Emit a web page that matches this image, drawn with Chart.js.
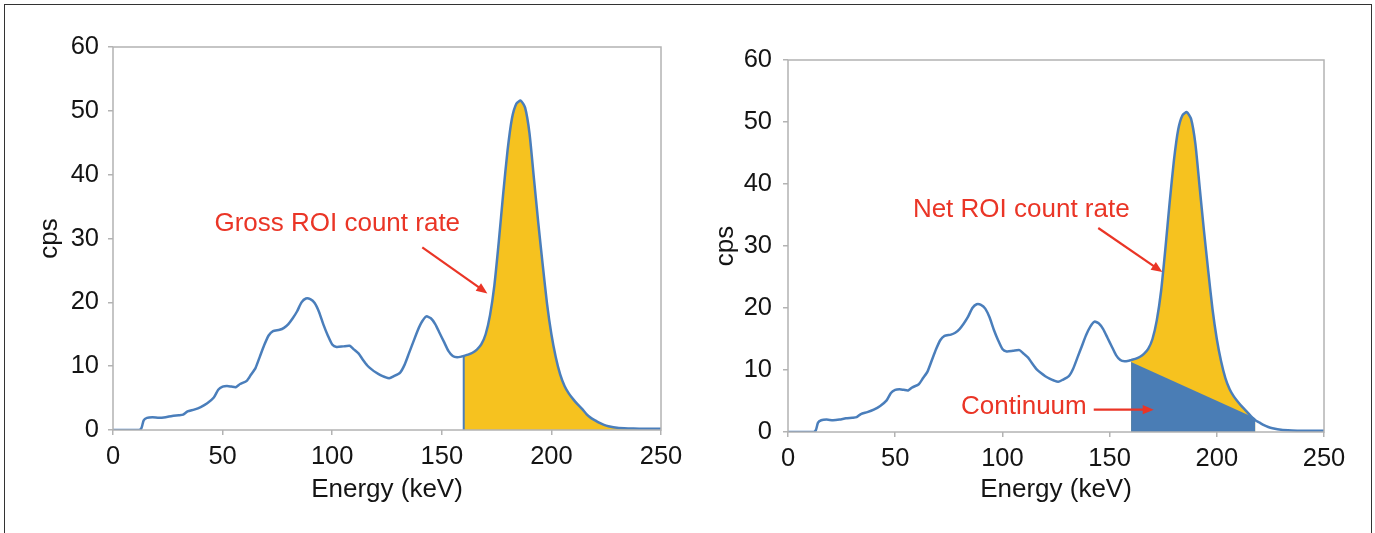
<!DOCTYPE html>
<html>
<head>
<meta charset="utf-8">
<script src="https://cdn.jsdelivr.net/npm/chart.js@4.4.1/dist/chart.umd.min.js"></script>
<style>
  html, body { margin: 0; padding: 0; background: #fff; }
  #page { position: relative; width: 1375px; height: 533px; overflow: hidden; }
  #frame { position: absolute; left: 4px; top: 4px; width: 1366px; height: 560px; border: 1.5px solid #333; }
  .panel { position: absolute; top: 0; }
</style>
</head>
<body>
<div id="page">
  <div id="frame"></div>
  <div class="panel" style="left:0"><canvas id="grossChart" width="690" height="533"></canvas></div>
  <div class="panel" style="left:690px"><canvas id="netChart" width="685" height="533"></canvas></div>
</div>
<script>
// Espectro medido: energía (keV) y tasa de conteo (cps)
const energy = [0, 12, 13, 14, 15.5, 18, 21, 24, 27, 30, 32, 34, 37, 40, 43, 46, 48, 50, 52, 54, 56, 58, 61, 63, 65, 67, 69, 71, 73, 76, 78, 80, 82, 84, 86, 88, 90, 92, 94, 96, 98, 100, 102, 105, 108, 110, 112, 114, 116, 118, 120, 122, 124, 126, 128, 131, 133, 135, 137, 139, 141, 143, 145, 147, 149, 151, 153, 155, 157, 159, 160, 162, 164, 166, 168, 170, 172, 174, 176, 178, 180, 182, 184, 186, 188, 190, 192, 194, 196, 198, 200, 202, 204, 206, 208, 210, 212, 214, 216, 218, 220, 222, 224, 226, 230, 235, 240, 245, 250];
const cps = [0, 0, 0.3, 1.5, 1.9, 2.0, 1.9, 2.0, 2.2, 2.3, 2.4, 2.9, 3.2, 3.6, 4.2, 5.1, 6.3, 6.8, 6.9, 6.8, 6.7, 7.2, 7.7, 8.7, 9.7, 11.5, 13.3, 14.8, 15.5, 15.7, 16.0, 16.6, 17.5, 18.6, 20.0, 20.6, 20.5, 19.9, 18.5, 16.5, 14.8, 13.4, 13.0, 13.1, 13.2, 12.6, 12.0, 11.0, 10.1, 9.5, 9.0, 8.6, 8.3, 8.1, 8.4, 9.0, 10.2, 12.0, 13.8, 15.6, 17.0, 17.8, 17.5, 16.6, 15.2, 13.8, 12.4, 11.6, 11.4, 11.5, 11.6, 11.8, 12.1, 12.6, 13.4, 15.0, 18.0, 22.7, 29.5, 37.0, 43.8, 48.8, 51.1, 51.6, 50.5, 46.5, 39.5, 32.5, 26.0, 19.8, 15.0, 11.4, 8.7, 6.9, 5.7, 4.8, 4.0, 3.3, 2.5, 1.9, 1.5, 1.1, 0.8, 0.6, 0.35, 0.25, 0.2, 0.2, 0.2];

// Región de interés (ROI) y fondo continuo
const roiStart = 160;
const roiEndNet = 218;
const continuumEnergy = [160, 218];
const continuumCps = [11.3, 2.2];

// Ejes
const xTicks = [0, 50, 100, 150, 200, 250];
const yTicks = [0, 10, 20, 30, 40, 50, 60];

const azul = '#4a7ebb';
const amarillo = '#f6c21f';
const azulRelleno = '#4a7db5';
const rojo = '#ea3526';
const gris = '#b3b3b3';
const texto = '#141414';
const fuente = "'Liberation Sans', Arial, sans-serif";

const puntos = (xs, ys) => xs.map((x, i) => ({ x: x, y: ys[i] }));
const espectro = puntos(energy, cps);
const tramo = (desde, hasta) => espectro.filter(p => p.x >= desde && p.x <= hasta);

// Marco del área de trazado, flechas y textos
const marcoYNotas = {
    id: 'marcoYNotas',
    afterDatasetsDraw(chart) {
        const { ctx, chartArea: a, scales } = chart;
        ctx.save();
        ctx.strokeStyle = gris;
        ctx.lineWidth = 1.5;
        ctx.strokeRect(a.left, a.top, a.right - a.left, a.bottom - a.top);
        const notas = chart.options.plugins.marcoYNotas.notas || [];
        notas.forEach(n => {
            const px = v => scales.x.getPixelForValue(v);
            const py = v => scales.y.getPixelForValue(v);
            ctx.fillStyle = rojo;
            ctx.font = '26px ' + fuente;
            ctx.textAlign = 'center';
            ctx.textBaseline = 'middle';
            ctx.fillText(n.texto, px(n.x), py(n.y));
            // flecha
            const x1 = px(n.flecha[0]), y1 = py(n.flecha[1]);
            const x2 = px(n.flecha[2]), y2 = py(n.flecha[3]);
            const ang = Math.atan2(y2 - y1, x2 - x1);
            ctx.strokeStyle = rojo;
            ctx.lineWidth = 2.2;
            ctx.beginPath();
            ctx.moveTo(x1, y1);
            ctx.lineTo(x2 - 6 * Math.cos(ang), y2 - 6 * Math.sin(ang));
            ctx.stroke();
            ctx.beginPath();
            ctx.moveTo(x2, y2);
            ctx.lineTo(x2 - 12 * Math.cos(ang - 0.4), y2 - 12 * Math.sin(ang - 0.4));
            ctx.lineTo(x2 - 12 * Math.cos(ang + 0.4), y2 - 12 * Math.sin(ang + 0.4));
            ctx.closePath();
            ctx.fill();
        });
        ctx.restore();
    }
};

function opciones(p) {
    return {
        responsive: false,
        animation: false,
        devicePixelRatio: 1,
        layout: { padding: { top: p.top, right: p.right, bottom: 0, left: 0 } },
        elements: { point: { radius: 0 }, line: { tension: 0.2 } },
        plugins: {
            legend: { display: false },
            tooltip: { enabled: false },
            marcoYNotas: { notas: p.notas }
        },
        scales: {
            x: {
                type: 'linear',
                min: 0,
                max: 250,
                afterBuildTicks: s => { s.ticks = xTicks.map(v => ({ value: v })); },
                afterFit: s => { s.height = p.alturaX; },
                border: { display: false },
                grid: { drawOnChartArea: false, drawTicks: true, tickLength: 5, color: gris, lineWidth: 1.5 },
                ticks: { color: texto, font: { family: fuente, size: 25.5 }, padding: 7, maxRotation: 0 },
                title: { display: true, text: 'Energy (keV)', color: texto, font: { family: fuente, size: 26 }, padding: { top: 0, bottom: 28 } }
            },
            y: {
                min: 0,
                max: 60,
                afterBuildTicks: s => { s.ticks = yTicks.map(v => ({ value: v })); },
                afterFit: s => { s.width = p.anchoY; },
                border: { display: false },
                grid: { drawOnChartArea: false, drawTicks: true, tickLength: 5, color: gris, lineWidth: 1.5 },
                ticks: { color: texto, font: { family: fuente, size: 25.5 }, padding: p.padY },
                title: { display: true, text: 'cps', color: texto, font: { family: fuente, size: 26 }, padding: { top: p.tituloY, bottom: 0 } }
            }
        }
    };
}

// Gráfica izquierda: tasa de conteo bruta en la ROI
new Chart(document.getElementById('grossChart').getContext('2d'), {
    type: 'line',
    data: {
        datasets: [
            { data: espectro, borderColor: azul, borderWidth: 2.5, fill: false },
            { data: [{ x: roiStart, y: 0 }, tramo(roiStart, roiStart)[0]], borderColor: azul, borderWidth: 2, tension: 0, fill: false },
            { data: tramo(roiStart, 250), borderWidth: 0, backgroundColor: amarillo, fill: 'origin' }
        ]
    },
    options: opciones({
        top: 47, right: 29, alturaX: 103, anchoY: 113, padY: 9, tituloY: 34,
        notas: [{ texto: 'Gross ROI count rate', x: 102.3, y: 32.3, flecha: [141.1, 28.6, 170.8, 21.4] }]
    }),
    plugins: [marcoYNotas]
});

// Gráfica derecha: tasa neta y fondo continuo
new Chart(document.getElementById('netChart').getContext('2d'), {
    type: 'line',
    data: {
        datasets: [
            { data: espectro, borderColor: azul, borderWidth: 2.5, fill: false },
            { data: puntos(continuumEnergy, continuumCps), borderWidth: 0, tension: 0, backgroundColor: azulRelleno, fill: 'origin' },
            { data: tramo(roiStart, roiEndNet), borderWidth: 0, backgroundColor: amarillo, fill: 'origin' }
        ]
    },
    options: opciones({
        top: 60, right: 51, alturaX: 101, anchoY: 98, padY: 11, tituloY: 20,
        notas: [
            { texto: 'Net ROI count rate', x: 108.8, y: 35.9, flecha: [144.7, 32.9, 174.6, 25.8] },
            { texto: 'Continuum', x: 110, y: 4.1, flecha: [142.6, 3.6, 170.6, 3.6] }
        ]
    }),
    plugins: [marcoYNotas]
});
</script>
</body>
</html>
